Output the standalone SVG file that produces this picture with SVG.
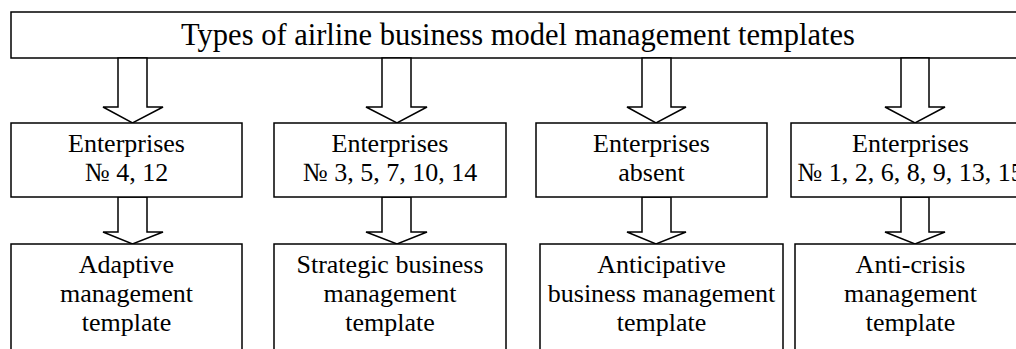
<svg xmlns="http://www.w3.org/2000/svg" width="1016" height="349" viewBox="0 0 1016 349">
<style>
.box{fill:#fff;stroke:#000;stroke-width:1.5}
.arr{fill:#fff;stroke:#000;stroke-width:1.5;stroke-linejoin:miter}
text{font-family:"Liberation Serif","Times New Roman",serif;fill:#000;text-anchor:middle}
.t{font-size:30.5px}
.n{font-size:26px}
</style>
<rect width="1016" height="349" fill="#fff"/>
<g id="title">
<rect class="box" x="11" y="12" width="1030" height="46"/>
<text class="t" x="518" y="45">Types of airline business model management templates</text>
</g>
<g id="connectors">
<polygon class="arr" points="118,58 147,58 147,107 163,107 132.5,123 103,107 118,107"/>
<polygon class="arr" points="382,58 411,58 411,107 427,107 397,123 366,107 382,107"/>
<polygon class="arr" points="642,58 671,58 671,107 686,107 656,123 627,107 642,107"/>
<polygon class="arr" points="901,58 929,58 929,107 945,107 915,123 885,107 901,107"/>
<polygon class="arr" points="118,197 147,197 147,232 163,232 132.5,244 103,232 118,232"/>
<polygon class="arr" points="382,197 411,197 411,232 427,232 397,244 366,232 382,232"/>
<polygon class="arr" points="642,197 671,197 671,232 686,232 656,244 627,232 642,232"/>
<polygon class="arr" points="901,197 929,197 929,232 945,232 915,244 885,232 901,232"/>
</g>
<g id="ent1">
<rect class="box" x="11" y="123" width="231" height="74"/>
<text class="n" x="126.5" y="152">Enterprises</text>
<text class="n" x="126.5" y="181">№ 4, 12</text>
</g>
<g id="ent2">
<rect class="box" x="274" y="123" width="232" height="74"/>
<text class="n" x="390" y="152">Enterprises</text>
<text class="n" x="390" y="181">№ 3, 5, 7, 10, 14</text>
</g>
<g id="ent3">
<rect class="box" x="536" y="123" width="231" height="74"/>
<text class="n" x="651.5" y="152">Enterprises</text>
<text class="n" x="651.5" y="181">absent</text>
</g>
<g id="ent4">
<rect class="box" x="791" y="123" width="240" height="74"/>
<text class="n" x="910.5" y="152">Enterprises</text>
<text class="n" x="910.5" y="181">№ 1, 2, 6, 8, 9, 13, 15</text>
</g>
<g id="tpl1">
<rect class="box" x="11" y="244" width="231" height="120"/>
<text class="n" x="126.5" y="273">Adaptive</text>
<text class="n" x="126.5" y="302">management</text>
<text class="n" x="126.5" y="331">template</text>
</g>
<g id="tpl2">
<rect class="box" x="274" y="244" width="232" height="120"/>
<text class="n" x="390" y="273">Strategic business</text>
<text class="n" x="390" y="302">management</text>
<text class="n" x="390" y="331">template</text>
</g>
<g id="tpl3">
<rect class="box" x="540" y="244" width="243" height="120"/>
<text class="n" x="661.5" y="273">Anticipative</text>
<text class="n" x="661.5" y="302">business management</text>
<text class="n" x="661.5" y="331">template</text>
</g>
<g id="tpl4">
<rect class="box" x="795" y="244" width="240" height="120"/>
<text class="n" x="910.5" y="273">Anti-crisis</text>
<text class="n" x="910.5" y="302">management</text>
<text class="n" x="910.5" y="331">template</text>
</g>
</svg>
